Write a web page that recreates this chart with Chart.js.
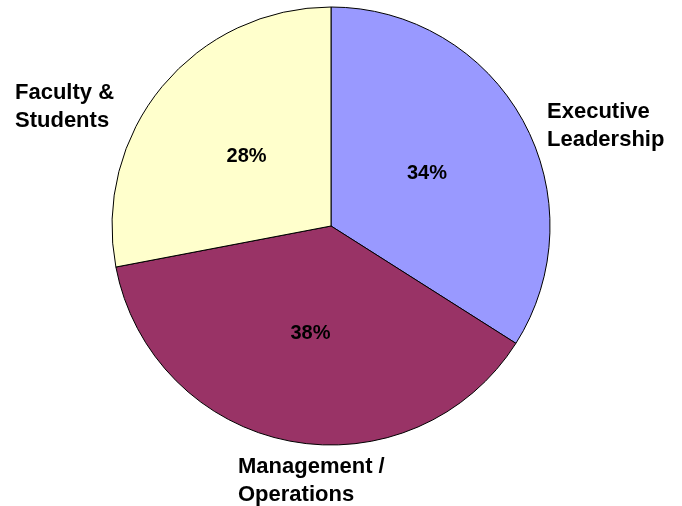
<!DOCTYPE html>
<html>
<head>
<meta charset="utf-8">
<script src="https://cdn.jsdelivr.net/npm/chart.js@4/dist/chart.umd.min.js"></script>
<style>
  html, body { margin: 0; padding: 0; background: #fff; }
  #wrap { width: 682px; height: 506px; position: relative; }
</style>
</head>
<body>
<div id="wrap"><canvas id="chartPie"></canvas></div>
<script>
// Datos del gráfico
const categorias = [['Executive', 'Leadership'], ['Management /', 'Operations'], ['Faculty &', 'Students']];
const valores = [34, 38, 28];
const colores = ['#9999ff', '#993366', '#ffffcc'];

// Etiquetas: porcentaje dentro de cada porción, nombre fuera
const etiquetasPie = {
  id: 'etiquetasPie',
  afterDatasetsDraw(chart) {
    const ctx = chart.ctx;
    const arcs = chart.getDatasetMeta(0).data;
    const total = valores.reduce((a, b) => a + b, 0);
    // desplazamiento del texto exterior respecto al centro (px)
    const offs = [[216, -108], [-93, 247], [-316, -127]];
    ctx.save();
    ctx.fillStyle = '#000';
    arcs.forEach((arc, i) => {
      const { x, y, startAngle, endAngle, outerRadius } = arc.getProps(['x', 'y', 'startAngle', 'endAngle', 'outerRadius'], true);
      const mid = (startAngle + endAngle) / 2;
      const r = outerRadius * 0.5;
      ctx.font = 'bold 20px "Liberation Sans", Arial, sans-serif';
      ctx.textAlign = 'center';
      ctx.textBaseline = 'middle';
      ctx.fillText(Math.round(valores[i] / total * 100) + '%', x + Math.cos(mid) * r, y + Math.sin(mid) * r);

      ctx.font = 'bold 22px "Liberation Sans", Arial, sans-serif';
      ctx.textAlign = 'left';
      ctx.textBaseline = 'alphabetic';
      categorias[i].forEach((linea, k) => {
        ctx.fillText(linea, x + offs[i][0], y + offs[i][1] + k * 27.5);
      });
    });
    ctx.restore();
  }
};

window.addEventListener('load', () => {
  new Chart(document.getElementById('chartPie'), {
    type: 'pie',
    data: {
      labels: categorias.map(c => c.join(' ')),
      datasets: [{
        data: valores,
        backgroundColor: colores,
        borderColor: '#000',
        borderWidth: 1,
        radius: 219
      }]
    },
    options: {
      responsive: true,
      maintainAspectRatio: false,
      animation: false,
      layout: { padding: { left: 0, right: 20, top: 0, bottom: 54 } },
      plugins: { legend: { display: false }, tooltip: { enabled: false } }
    },
    plugins: [etiquetasPie]
  });
});
</script>
</body>
</html>
